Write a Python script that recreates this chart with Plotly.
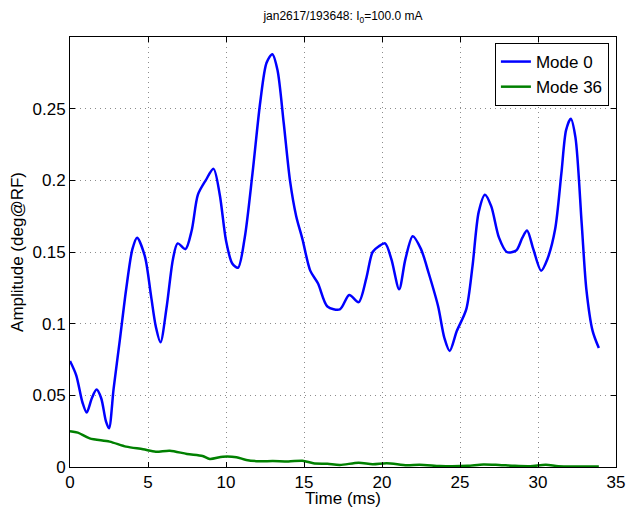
import plotly.graph_objects as go

# Mode 0 amplitude (deg@RF) vs time (ms)
mode0_t = [0.0, 0.4, 0.8, 1.07, 1.4, 1.7, 2.0, 2.3, 2.5, 2.8, 3.2, 3.6, 4.0, 4.3, 4.8, 5.2, 5.5, 5.8,
           6.2, 6.6, 6.9, 7.4, 7.8, 8.2, 8.7, 9.2, 9.6, 10.0, 10.4, 10.77, 11.2, 11.7, 12.2, 12.6,
           12.97, 13.3, 13.7, 14.1, 14.5, 14.9, 15.4, 15.9, 16.5, 17.3, 17.9, 18.5, 19.0, 19.4,
           19.8, 20.2, 20.6, 21.1, 21.5, 21.97, 22.5, 23.0, 23.6, 24.0, 24.34, 24.8, 25.4, 25.8,
           26.2, 26.6, 27.0, 27.5, 28.0, 28.6, 29.0, 29.3, 29.7, 30.2, 30.6, 31.1, 31.5, 31.8,
           32.1, 32.4, 32.8, 33.1, 33.5, 33.9]
mode0_amp = [0.074, 0.064, 0.045, 0.038, 0.048, 0.054, 0.048, 0.032, 0.027, 0.055, 0.089, 0.124,
             0.152, 0.160, 0.147, 0.119, 0.098, 0.087, 0.112, 0.145, 0.156, 0.152, 0.165, 0.190,
             0.200, 0.208, 0.190, 0.158, 0.142, 0.139, 0.160, 0.205, 0.255, 0.282, 0.288, 0.277,
             0.240, 0.200, 0.175, 0.159, 0.137, 0.128, 0.112, 0.110, 0.120, 0.115, 0.132, 0.150,
             0.154, 0.156, 0.145, 0.124, 0.145, 0.161, 0.152, 0.135, 0.112, 0.090, 0.081, 0.095,
             0.110, 0.140, 0.178, 0.190, 0.182, 0.160, 0.150, 0.151, 0.160, 0.165, 0.152, 0.137,
             0.145, 0.166, 0.205, 0.235, 0.243, 0.230, 0.170, 0.124, 0.095, 0.083]

# Mode 36 amplitude
mode36_t = [0.0, 0.5, 1.26, 2.54, 3.6, 4.68, 5.5, 6.4, 7.5, 8.5, 8.96, 9.8, 10.67, 11.3, 12.16, 13.0,
            14.0, 14.9, 15.6, 16.5, 17.3, 18.5, 19.4, 20.3, 21.6, 22.4, 23.7, 24.5, 25.5, 26.5,
            27.5, 28.5, 29.5, 30.5, 31.3, 32.5, 33.9]
mode36_amp = [0.025, 0.024, 0.020, 0.0177, 0.0142, 0.0124, 0.0107, 0.0114, 0.0091, 0.0077, 0.0056,
              0.0072, 0.0068, 0.0049, 0.0040, 0.0042, 0.0038, 0.0044, 0.0026, 0.0022, 0.0014,
              0.0030, 0.0019, 0.0026, 0.0012, 0.0016, 0.0007, 0.0005, 0.0008, 0.0018, 0.0014,
              0.0008, 0.0006, 0.0015, 0.0006, 0.0004, 0.0004]

x_ticks = [0, 5, 10, 15, 20, 25, 30, 35]
y_ticks = [0, 0.05, 0.1, 0.15, 0.2, 0.25]
y_tick_labels = ["0", "0.05", "0.1", "0.15", "0.2", "0.25"]

FONT = "Liberation Sans, Arial, Helvetica, sans-serif"

fig = go.Figure()
fig.add_trace(go.Scatter(x=mode0_t, y=mode0_amp, mode="lines", name="Mode 0",
                         line=dict(color="#0000FF", width=2.5, shape="spline", smoothing=0.8)))
fig.add_trace(go.Scatter(x=mode36_t, y=mode36_amp, mode="lines", name="Mode 36",
                         line=dict(color="#008000", width=2.5, shape="spline", smoothing=0.8)))

axis_common = dict(
    showline=True, linecolor="black", linewidth=1, mirror="ticks",
    ticks="inside", ticklen=5, tickcolor="black",
    showgrid=True, gridcolor="#8c8c8c", griddash="1px,4px", gridwidth=1,
    zeroline=False, tickfont=dict(family=FONT, size=17, color="black"),
    automargin=False,
)

fig.update_layout(
    width=627, height=508,
    margin=dict(l=70, r=11, t=37, b=41),
    paper_bgcolor="white", plot_bgcolor="white",
    font=dict(family=FONT, color="black"),
    title=dict(text="jan2617/193648: I<sub>0</sub>=100.0 mA", font=dict(family=FONT, size=12),
               x=0.547, xanchor="center", xref="container", y=0.968, yanchor="middle", yref="container",
               automargin=False),
    xaxis=dict(range=[0, 35], tickvals=x_ticks,
               title=dict(text="Time (ms)", font=dict(family=FONT, size=17), standoff=0),
               **axis_common),
    yaxis=dict(range=[0, 0.3], tickvals=y_ticks, ticktext=y_tick_labels,
               title=dict(text="Amplitude (deg@RF)", font=dict(family=FONT, size=17), standoff=4),
               **axis_common),
    legend=dict(x=0.987, y=0.986, xanchor="right", yanchor="top",
                bordercolor="black", borderwidth=1, bgcolor="white",
                font=dict(family=FONT, size=17), tracegroupgap=0),
    showlegend=True,
)

fig.write_html("out.html", config={"displayModeBar": False},
               post_script="document.body.style.margin='0';document.body.style.overflow='hidden';")
